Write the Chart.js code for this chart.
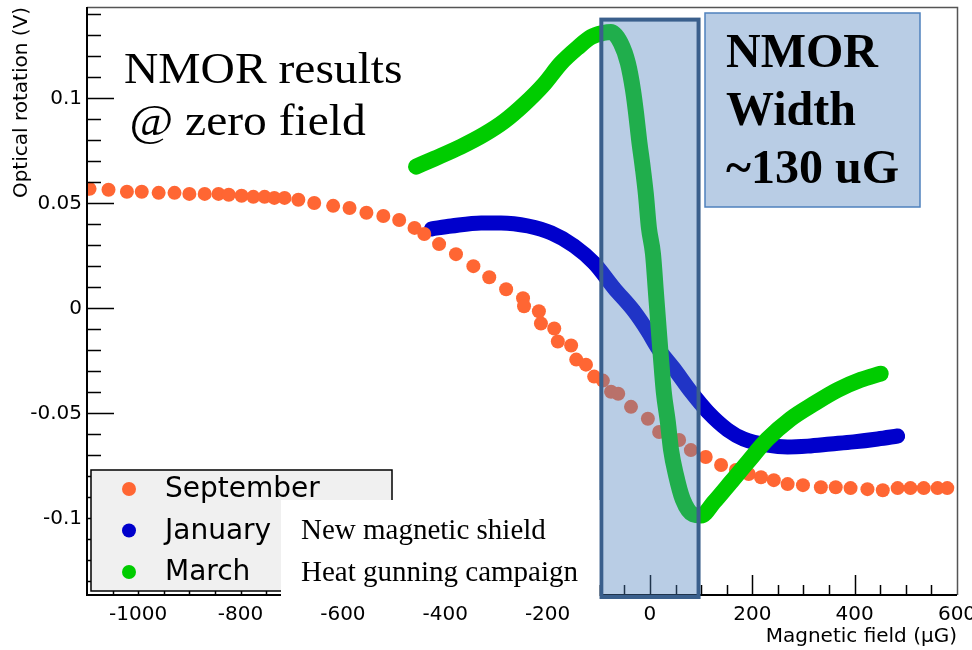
<!DOCTYPE html>
<html>
<head>
<meta charset="utf-8">
<script src="https://cdn.jsdelivr.net/npm/chart.js@4.4.0/dist/chart.umd.min.js"></script>
<style>
  html, body { margin: 0; padding: 0; background: #fff; }
</style>
</head>
<body>
<canvas id="nmor" width="972" height="650"></canvas>
<script>
// magnetic field (uG) vs optical rotation (V), one pair of arrays per run
const sepField = [-1095, -1058, -1022, -993, -960, -929, -900, -870, -843, -823, -798, -775, -753, -734, -714, -687, -656, -619, -587, -554, -521, -490, -460, -441, -412, -379, -345, -314, -281, -248, -246, -217, -213, -187, -180, -154, -144, -125, -109, -92, -76, -62, -37, -4, 18, 57, 80, 109, 139, 168, 193, 217, 242, 269, 299, 334, 363, 392, 425, 455, 484, 509, 535, 562, 581];
const sepRot = [0.0569, 0.0565, 0.0555, 0.0555, 0.0550, 0.0550, 0.0545, 0.0545, 0.0545, 0.0541, 0.0536, 0.0531, 0.0531, 0.0526, 0.0526, 0.0517, 0.0502, 0.0488, 0.0478, 0.0455, 0.0440, 0.0421, 0.0383, 0.0354, 0.0306, 0.0258, 0.0201, 0.0148, 0.0091, 0.0048, 0.0010, -0.0014, -0.0072, -0.0096, -0.0158, -0.0177, -0.0244, -0.0268, -0.0325, -0.0344, -0.0397, -0.0407, -0.0469, -0.0526, -0.0589, -0.0627, -0.0675, -0.0708, -0.0746, -0.0770, -0.0789, -0.0804, -0.0818, -0.0837, -0.0842, -0.0852, -0.0852, -0.0856, -0.0861, -0.0866, -0.0856, -0.0856, -0.0856, -0.0856, -0.0856];

const janField = [-427, -388, -330, -291, -238, -193, -148, -109, -70, -31, -4, 16, 47, 80, 113, 152, 183, 230, 269, 308, 353, 398, 445, 484];
const janRot = [0.0378, 0.0392, 0.0407, 0.0407, 0.0392, 0.0359, 0.0297, 0.0215, 0.0096, -0.0014, -0.0110, -0.0191, -0.0287, -0.0397, -0.0493, -0.0579, -0.0622, -0.0651, -0.0660, -0.0656, -0.0646, -0.0636, -0.0622, -0.0608];

const marField = [-457, -421, -369, -324, -285, -246, -207, -174, -140, -115, -92, -76, -57, -43, -33, -27, -21, -14, -8, -2, 6, 12, 16, 21, 27, 35, 41, 51, 64, 84, 100, 125, 158, 191, 230, 275, 320, 367, 412, 451];
const marRot = [0.0675, 0.0713, 0.0770, 0.0828, 0.0890, 0.0971, 0.1067, 0.1167, 0.1244, 0.1292, 0.1311, 0.1316, 0.1263, 0.1167, 0.1038, 0.0928, 0.0799, 0.0670, 0.0545, 0.0383, 0.0258, 0.0067, -0.0062, -0.0220, -0.0397, -0.0541, -0.0670, -0.0794, -0.0909, -0.0981, -0.0986, -0.0923, -0.0828, -0.0732, -0.0622, -0.0526, -0.0455, -0.0388, -0.0340, -0.0311];

const xTicks = [-1000, -800, -600, -400, -200, 0, 200, 400, 600];
const yTicks = [-0.1, -0.05, 0, 0.05, 0.1];
const yTickLabels = ['-0.1', '-0.05', '0', '0.05', '0.1'];

const runNames = ['September', 'January', 'March'];
const runColors = ['#ff6633', '#0000cc', '#00cc00'];
const noteLines = ['New magnetic shield', 'Heat gunning campaign'];
const titleLines = ['NMOR results', '@ zero field'];
const widthLines = ['NMOR', 'Width', '~130 uG'];
const widthBand = [-95, 95]; // uG, highlighted resonance width
const xTitle = 'Magnetic field (\u03bcG)';

const pairs = (xs, ys) => xs.map((x, i) => ({ x, y: ys[i] }));
const axisFont = 'DejaVu Sans';

// ROOT-style frame with inward ticks, plus the slide annotations on top
const overlays = {
  id: 'overlays',
  afterDraw(chart) {
    const { ctx, chartArea: a, scales: { x, y } } = chart;
    ctx.save();

    // ticks
    ctx.strokeStyle = '#000';
    ctx.lineWidth = 1.5;
    ctx.beginPath();
    for (let v = -1050; v < 600; v += 50) {
      const px = Math.round(x.getPixelForValue(v)) + 0.5;
      const len = v % 200 === 0 ? 20 : 10;
      ctx.moveTo(px, a.bottom);
      ctx.lineTo(px, a.bottom - len);
    }
    for (let k = -13; k <= 14; k++) {
      const py = Math.round(y.getPixelForValue(k / 100)) + 0.5;
      const len = k % 5 === 0 ? 27 : 14;
      ctx.moveTo(a.left, py);
      ctx.lineTo(a.left + len, py);
    }
    ctx.stroke();

    // frame
    ctx.strokeStyle = '#555';
    ctx.lineWidth = 1.5;
    ctx.beginPath();
    ctx.moveTo(a.left, a.top + 0.5);
    ctx.lineTo(a.right + 0.5, a.top + 0.5);
    ctx.lineTo(a.right + 0.5, a.bottom);
    ctx.stroke();
    ctx.strokeStyle = '#000';
    ctx.lineWidth = 2;
    ctx.beginPath();
    ctx.moveTo(a.left, a.top);
    ctx.lineTo(a.left, a.bottom);
    ctx.lineTo(a.right, a.bottom);
    ctx.stroke();

    // x axis title, right-aligned to the frame
    ctx.fillStyle = '#000';
    ctx.font = `20px "${axisFont}"`;
    ctx.textAlign = 'right';
    ctx.textBaseline = 'alphabetic';
    ctx.fillText(xTitle, a.right, a.bottom + 47);

    // resonance width band
    const bx0 = x.getPixelForValue(widthBand[0]);
    const bx1 = x.getPixelForValue(widthBand[1]);
    const by0 = y.getPixelForValue(0.1375);
    const by1 = a.bottom + 2;
    ctx.fillStyle = 'rgba(79, 129, 189, 0.4)';
    ctx.fillRect(bx0, by0, bx1 - bx0, by1 - by0);
    ctx.strokeStyle = '#3a5f8c';
    ctx.lineWidth = 4;
    ctx.strokeRect(bx0, by0, bx1 - bx0, by1 - by0);

    // width label box
    ctx.fillStyle = '#b9cde5';
    ctx.fillRect(705, 13, 215, 194);
    ctx.strokeStyle = '#4f81bd';
    ctx.lineWidth = 1.5;
    ctx.strokeRect(705, 13, 215, 194);
    ctx.fillStyle = '#000';
    ctx.font = 'bold 48px "Liberation Serif"';
    ctx.textAlign = 'left';
    widthLines.forEach((t, i) => ctx.fillText(t, 726, 67 + i * 58));

    // heading, slightly widened like the slide text
    ctx.save();
    ctx.font = '44px "Liberation Serif"';
    ctx.translate(124, 0);
    ctx.scale(1.08, 1);
    ctx.fillText(titleLines[0], 0, 83);
    ctx.fillText(titleLines[1], 5, 135);
    ctx.restore();

    // legend
    ctx.fillStyle = '#f0f0f0';
    ctx.fillRect(91, 470, 301, 121);
    ctx.strokeStyle = '#000';
    ctx.lineWidth = 1.5;
    ctx.strokeRect(91, 470, 301, 121);
    ctx.font = `28px "${axisFont}"`;
    ctx.textBaseline = 'middle';
    runNames.forEach((name, i) => {
      const cy = 489 + i * 41.5;
      ctx.fillStyle = runColors[i];
      ctx.beginPath();
      ctx.arc(129, cy, 7, 0, Math.PI * 2);
      ctx.fill();
      ctx.fillStyle = '#000';
      ctx.fillText(name, 165, cy + 1);
    });

    // campaign notes
    ctx.fillStyle = '#fff';
    ctx.fillRect(281, 500, bx0 - 283, 99);
    ctx.fillStyle = '#000';
    ctx.font = '29px "Liberation Serif"';
    ctx.textBaseline = 'alphabetic';
    noteLines.forEach((t, i) => ctx.fillText(t, 301, 539 + i * 42));

    ctx.restore();
  }
};

const lineRun = (label, xs, ys, color, width, order) => ({
  label,
  data: pairs(xs, ys),
  showLine: true,
  borderColor: color,
  borderWidth: width,
  borderCapStyle: 'round',
  borderJoinStyle: 'round',
  backgroundColor: color,
  pointRadius: 7,
  pointBorderWidth: 0,
  cubicInterpolationMode: 'monotone',
  order,
});

new Chart(document.getElementById('nmor'), {
  type: 'scatter',
  data: {
    datasets: [
      {
        label: runNames[0],
        data: pairs(sepField, sepRot),
        showLine: false,
        backgroundColor: runColors[0],
        pointRadius: 7,
        pointBorderWidth: 0,
        order: 1,
      },
      lineRun(runNames[1], janField, janRot, runColors[1], 15, 2),
      lineRun(runNames[2], marField, marRot, runColors[2], 16, 0),
    ],
  },
  plugins: [overlays],
  options: {
    responsive: false,
    animation: false,
    devicePixelRatio: 1,
    layout: { padding: { top: 5, right: 15, left: 0, bottom: 0 } },
    plugins: {
      legend: { display: false },
      tooltip: { enabled: false },
    },
    scales: {
      x: {
        type: 'linear',
        min: -1100,
        max: 600,
        afterBuildTicks: (s) => { s.ticks = xTicks.map((v) => ({ value: v })); },
        afterFit: (s) => {
          s.height = 55;
          s.paddingLeft = 0;
          s.paddingRight = 0;
        },
        grid: { display: false, drawTicks: false },
        border: { display: false },
        ticks: {
          padding: 8,
          color: '#000',
          font: { family: axisFont, size: 20 },
          maxRotation: 0,
          callback: (v) => String(v),
        },
      },
      y: {
        type: 'linear',
        min: -0.1365,
        max: 0.1435,
        afterBuildTicks: (s) => { s.ticks = yTicks.map((v) => ({ value: v })); },
        afterFit: (s) => {
          s.width = 87;
          s.paddingTop = 0;
          s.paddingBottom = 0;
        },
        grid: { display: false, drawTicks: false },
        border: { display: false },
        ticks: {
          padding: 5,
          color: '#000',
          font: { family: axisFont, size: 20 },
          callback: (v) => yTickLabels[yTicks.indexOf(v)],
        },
        title: {
          display: true,
          text: 'Optical rotation (V)',
          align: 'end',
          color: '#000',
          font: { family: axisFont, size: 20 },
          padding: { top: 10, bottom: 0 },
        },
      },
    },
  },
});
</script>
</body>
</html>
